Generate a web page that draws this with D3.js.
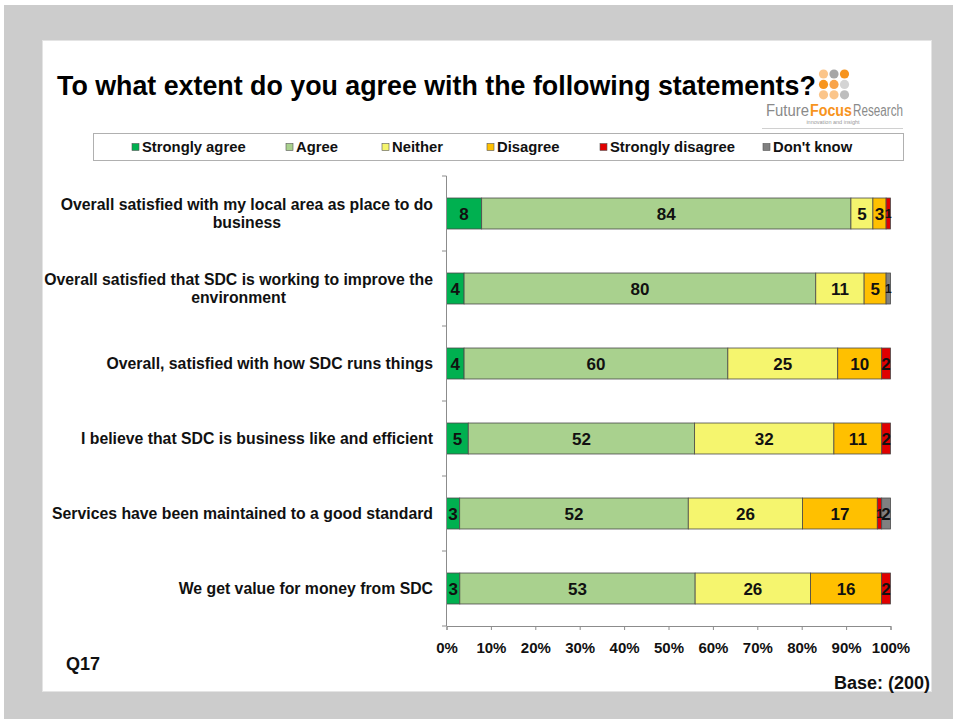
<!DOCTYPE html>
<html>
<head>
<meta charset="utf-8">
<script src="https://cdn.jsdelivr.net/npm/d3@7"></script>
<style>
  html, body { margin: 0; padding: 0; background: #ffffff; }
  svg { display: block; font-family: "Liberation Sans", Arial, sans-serif; }
</style>
</head>
<body>
<svg id="chart" width="953" height="722"></svg>
<script>
// Survey statements (line breaks mark where a label wraps)
const categories = [
  "Overall satisfied with my local area as place to do\nbusiness",
  "Overall satisfied that SDC is working to improve the\nenvironment",
  "Overall, satisfied with how SDC runs things",
  "I believe that SDC is business like and efficient",
  "Services have been maintained to a good standard",
  "We get value for money from SDC"
];

// Response options, in stacking order
const seriesNames = ["Strongly agree", "Agree", "Neither", "Disagree", "Strongly disagree", "Don't know"];
const seriesColors = ["#00b050", "#a9d18e", "#f5f56e", "#ffc000", "#e00000", "#808080"];

// Percentages per statement, one array per response option
const stronglyAgree    = [8, 4, 4, 5, 3, 3];
const agree            = [84, 80, 60, 52, 52, 53];
const neither          = [5, 11, 25, 32, 26, 26];
const disagree         = [3, 5, 10, 11, 17, 16];
const stronglyDisagree = [1, 0, 2, 2, 1, 2];
const dontKnow         = [0, 1, 0, 0, 2, 0];

const xTickValues = [0, 0.1, 0.2, 0.3, 0.4, 0.5, 0.6, 0.7, 0.8, 0.9, 1];

const titleText = "To what extent do you agree with the following statements?";
const questionId = "Q17";
const baseText = "Base: (200)";

// Build rows for the stack layout
const seriesValues = [stronglyAgree, agree, neither, disagree, stronglyDisagree, dontKnow];
const rows = categories.map((c, i) => {
  const r = { category: c };
  seriesNames.forEach((s, j) => { r[s] = seriesValues[j][i]; });
  return r;
});

const stacked = d3.stack()
  .keys(seriesNames)
  .offset(d3.stackOffsetExpand)(rows);

const svg = d3.select("#chart");

// Slide frame: grey surround with a white card
svg.append("rect").attr("x", 4).attr("y", 5).attr("width", 949).attr("height", 714).attr("fill", "#cccccc");
svg.append("rect").attr("x", 42.5).attr("y", 40.5).attr("width", 889).attr("height", 651)
  .attr("fill", "#ffffff").attr("stroke", "#e4e4e4").attr("stroke-width", 1);

// Title
svg.append("text")
  .attr("x", 57).attr("y", 95)
  .attr("font-size", 26.8).attr("font-weight", "bold").attr("fill", "#000")
  .text(titleText);

// Company logo: dot grid and wordmark
const logoDots = [
  ["#fbc58a", "#a6a6a6", "#f7941d"],
  ["#f7941d", "#f9a44a", "#d4d4d4"],
  ["#fbc58a", "#fbc58a", "#bdbdbd"]
];
const logo = svg.append("g");
logoDots.forEach((row, ri) => row.forEach((col, ci) => {
  logo.append("circle")
    .attr("cx", 823.5 + ci * 10.5).attr("cy", 74 + ri * 10.4).attr("r", 4.6).attr("fill", col);
}));
// Wordmark pieces: [text, x, width, colour, weight]
const wordParts = [
  ["Future", 766, 43, "#8a8a8a", "normal"],
  ["Focus", 810, 42, "#f7941d", "bold"],
  ["Research", 853, 50, "#8a8a8a", "normal"]
];
wordParts.forEach(([t, wx, ww, col, fw]) => {
  logo.append("text")
    .attr("x", wx).attr("y", 116)
    .attr("font-size", 16).attr("font-weight", fw).attr("fill", col)
    .attr("textLength", ww).attr("lengthAdjust", "spacingAndGlyphs")
    .text(t);
});
logo.append("text")
  .attr("x", 833).attr("y", 124).attr("text-anchor", "middle")
  .attr("font-size", 5.5).attr("fill", "#999").text("innovation and insight");
logo.append("line").attr("x1", 762).attr("x2", 903).attr("y1", 128.5).attr("y2", 128.5)
  .attr("stroke", "#d0d0d0");

// Legend
svg.append("rect").attr("x", 93.5).attr("y", 133.5).attr("width", 810).attr("height", 27)
  .attr("fill", "#fff").attr("stroke", "#b0b0b0").attr("stroke-width", 1);
const legendX = [132, 286, 382, 487, 600, 763];
const legend = svg.append("g").selectAll("g").data(seriesNames).join("g")
  .attr("transform", (d, i) => `translate(${legendX[i]},147)`);
legend.append("rect").attr("x", 0).attr("y", -3.5).attr("width", 7).attr("height", 7)
  .attr("fill", (d, i) => seriesColors[i]).attr("stroke", "#555").attr("stroke-width", 0.6);
legend.append("text").attr("x", 10).attr("y", 5)
  .attr("font-size", 14.8).attr("font-weight", "bold").attr("fill", "#111")
  .text(d => d);

// Scales
const x = d3.scaleLinear().domain([0, 1]).range([446.5, 890.5]);
const y = d3.scaleBand().domain(categories).range([176, 626])
  .paddingInner(0.587).paddingOuter(0.2935);

// Bars
const layers = svg.append("g").selectAll("g").data(stacked).join("g")
  .attr("fill", (d, i) => seriesColors[i]);
layers.selectAll("rect").data(d => d.filter(p => p[1] > p[0])).join("rect")
  .attr("x", d => x(d[0]))
  .attr("y", d => y(d.data.category))
  .attr("width", d => x(d[1]) - x(d[0]))
  .attr("height", y.bandwidth())
  .attr("stroke", "#4a4a4a").attr("stroke-width", 0.8);

// Value labels centred in each segment; slivers get a smaller label
const labels = svg.append("g");
stacked.forEach(layer => {
  layer.forEach(p => {
    const v = p.data[layer.key];
    if (!v) return;
    const w = x(p[1]) - x(p[0]);
    labels.append("text")
      .attr("x", x((p[0] + p[1]) / 2))
      .attr("y", y(p.data.category) + y.bandwidth() / 2)
      .attr("dy", "0.36em")
      .attr("text-anchor", "middle")
      .attr("font-size", w < 7 ? 12 : 17).attr("font-weight", "bold").attr("fill", "#111")
      .text(v);
  });
});

// Category axis: line with ticks at band boundaries
const yAxis = svg.append("g");
yAxis.append("line").attr("x1", 446.5).attr("x2", 446.5)
  .attr("y1", y.range()[0]).attr("y2", y.range()[1]).attr("stroke", "#8c8c8c");
d3.range(categories.length + 1).forEach(k => {
  const yy = y.range()[0] + k * y.step();
  yAxis.append("line").attr("x1", 442).attr("x2", 446.5).attr("y1", yy).attr("y2", yy)
    .attr("stroke", "#8c8c8c");
});

// Category labels, right aligned block with centred wrapped lines
const labelRight = 433;
categories.forEach(c => {
  const lines = c.split("\n");
  const cy = y(c) + y.bandwidth() / 2;
  const g = svg.append("g");
  const texts = lines.map((ln, li) => g.append("text")
    .attr("y", cy + (li - (lines.length - 1) / 2) * 18)
    .attr("dy", "0.36em")
    .attr("font-size", 15.8).attr("font-weight", "bold").attr("fill", "#111")
    .text(ln));
  const widths = texts.map(t => t.node().getComputedTextLength());
  const maxW = d3.max(widths);
  texts.forEach(t => t.attr("x", labelRight - maxW / 2).attr("text-anchor", "middle"));
});

// Percentage axis
const xAxis = svg.append("g").attr("transform", "translate(0,626)")
  .call(d3.axisBottom(x).tickValues(xTickValues).tickFormat(d3.format(".0%")).tickSize(4).tickSizeOuter(4));
xAxis.select(".domain").attr("stroke", "#8c8c8c");
xAxis.selectAll(".tick line").attr("stroke", "#8c8c8c");
xAxis.selectAll(".tick text")
  .attr("y", 16).attr("dy", "0.71em")
  .attr("font-size", 15).attr("font-weight", "bold").attr("fill", "#111")
  .attr("font-family", "'Liberation Sans', Arial, sans-serif");

// Footer notes
svg.append("text").attr("x", 66).attr("y", 670)
  .attr("font-size", 18).attr("font-weight", "bold").attr("fill", "#111").text(questionId);
svg.append("text").attr("x", 930).attr("y", 689).attr("text-anchor", "end")
  .attr("font-size", 18).attr("font-weight", "bold").attr("fill", "#111").text(baseText);
</script>
</body>
</html>
